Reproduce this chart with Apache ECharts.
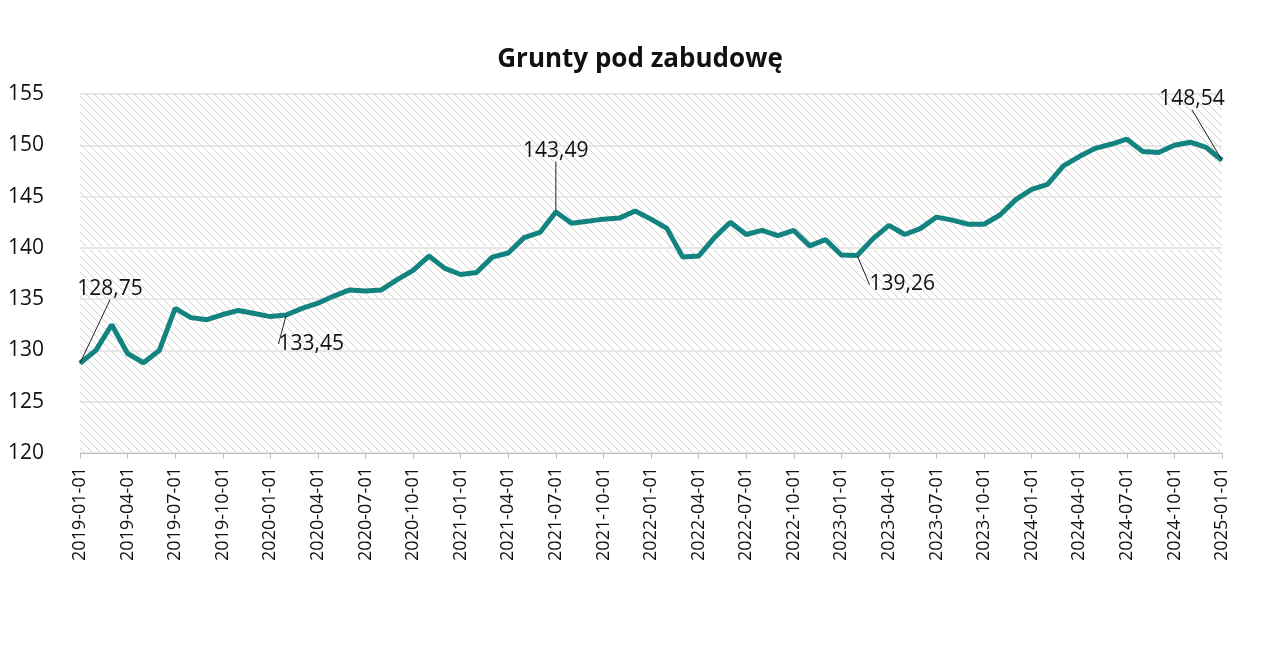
<!DOCTYPE html>
<html>
<head>
<meta charset="utf-8">
<script src="https://cdn.jsdelivr.net/npm/echarts@6/dist/echarts.min.js"></script>
<style>html,body{margin:0;background:#fff}#c{width:1280px;height:653px}</style>
</head>
<body>
<div id="c"></div>
<script>
const months = [];
for (let y = 2019; y <= 2025; y++) {
  for (let m = 1; m <= 12; m++) {
    if (y === 2025 && m > 1) break;
    months.push(y + "-" + String(m).padStart(2, "0") + "-01");
  }
}

const values2019 = [128.75, 130.0, 132.5, 129.7, 128.8, 130.0, 134.1, 133.2, 133.0, 133.5, 133.9, 133.6];
const values2020 = [133.3, 133.45, 134.1, 134.6, 135.3, 135.9, 135.8, 135.9, 136.9, 137.8, 139.2, 138.0];
const values2021 = [137.4, 137.6, 139.1, 139.5, 141.0, 141.5, 143.49, 142.4, 142.6, 142.8, 142.9, 143.6];
const values2022 = [142.8, 141.9, 139.1, 139.2, 141.0, 142.5, 141.3, 141.7, 141.2, 141.7, 140.2, 140.8];
const values2023 = [139.3, 139.26, 140.9, 142.2, 141.3, 141.9, 143.0, 142.7, 142.3, 142.3, 143.2, 144.7];
const values2024 = [145.7, 146.2, 148.0, 148.9, 149.7, 150.1, 150.6, 149.4, 149.3, 150.0, 150.3, 149.8];
const values2025 = [148.54];
const values = [].concat(values2019, values2020, values2021, values2022, values2023, values2024, values2025);

// annotated points: index -> label offset
const notes = { 0: [30, -58], 13: [25, 45], 30: [0, -45], 49: [45, 45], 72: [-30, -45] };

const pat = document.createElement("canvas");
pat.width = 8; pat.height = 8;
const g = pat.getContext("2d");
g.fillStyle = "#fff"; g.fillRect(0, 0, 8, 8);
g.strokeStyle = "#d0d0d0"; g.lineWidth = 1;
g.beginPath();
g.moveTo(0, 0); g.lineTo(8, 8);
g.moveTo(-4, 4); g.lineTo(4, 12);
g.moveTo(4, -4); g.lineTo(12, 4);
g.stroke();

const chart = echarts.init(document.getElementById("c"));
chart.setOption({
  animation: false,
  title: {
    text: "Grunty pod zabudowę", left: "center", top: 42,
    textStyle: { fontFamily: "Open Sans", fontSize: 26, fontWeight: "bold", color: "#111" }
  },
  grid: {
    left: 80, right: 58, top: 94, bottom: 200, show: true, containLabel: false,
    backgroundColor: { image: pat, repeat: "repeat" }, borderWidth: 0
  },
  xAxis: {
    type: "category", data: months, boundaryGap: false,
    axisLine: { lineStyle: { color: "#bfbfbf" } },
    axisTick: { interval: 2, length: 6, lineStyle: { color: "#bfbfbf" } },
    axisLabel: {
      interval: 2, rotate: 90, margin: 14,
      fontFamily: "Open Sans", fontSize: 18, color: "#111"
    }
  },
  yAxis: {
    type: "value", min: 120, max: 155, interval: 5,
    axisLabel: { fontFamily: "Open Sans", fontSize: 21, color: "#111", margin: 14, align: "left", padding: [0, 0, 0, -58] },
    splitLine: { lineStyle: { color: "#e6e6e6", width: 2 } }
  },
  series: [{
    type: "line",
    data: values.map((v, i) => notes[i] ? {
      value: v, symbol: "circle", symbolSize: 1,
      label: { show: true, formatter: () => v.toFixed(2).replace(".", ","), fontFamily: "Open Sans", fontSize: 21, color: "#111" },
      labelLine: { show: true, lineStyle: { color: "#222", width: 1 } }
    } : { value: v, symbol: "none" }),
    showSymbol: true,
    itemStyle: { color: "#13837f" },
    lineStyle: { color: "#13837f", width: 5 },
    labelLayout: p => notes[p.dataIndex] ? { dx: notes[p.dataIndex][0], dy: notes[p.dataIndex][1] } : {}
  }]
});
</script>
</body>
</html>
